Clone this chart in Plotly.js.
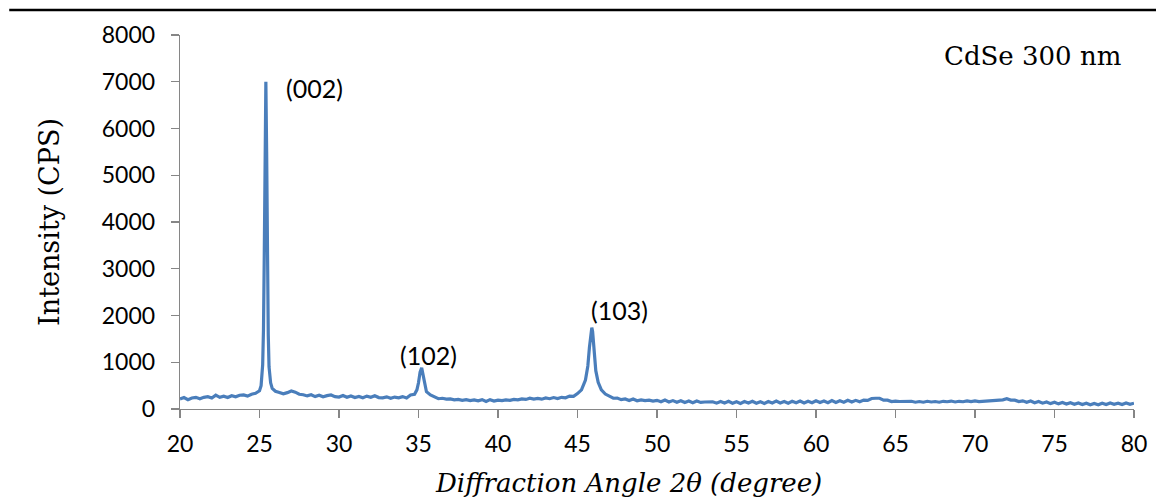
<!DOCTYPE html>
<html>
<head>
<meta charset="utf-8">
<script src="https://cdn.plot.ly/plotly-3.0.1.min.js"></script>
<style>html,body{margin:0;padding:0;background:#fff;}#chart{width:1156px;height:502px;}</style>
</head>
<body>
<div id="chart"></div>
<script>
// 2θ angles (degree)
const angle = [
20.00,20.25,20.50,20.75,21.00,21.25,21.50,21.75,22.00,22.25,22.50,22.75,23.00,23.25,23.50,23.75,24.00,24.25,24.50,24.75,25.00,
25.10,25.20,25.25,25.30,25.35,25.40,25.45,25.50,25.55,25.60,25.70,25.80,26.00,
26.25,26.50,26.75,27.00,27.25,27.50,27.75,28.00,28.25,28.50,28.75,29.00,29.25,29.50,29.75,30.00,30.25,30.50,30.75,31.00,31.25,31.50,31.75,32.00,32.25,32.50,32.75,33.00,33.25,33.50,33.75,34.00,34.25,34.50,34.75,
34.90,35.00,35.10,35.20,35.30,35.40,35.50,35.75,
36.00,36.25,36.50,36.75,37.00,37.25,37.50,37.75,38.00,38.25,38.50,38.75,39.00,39.25,39.50,39.75,40.00,40.25,40.50,40.75,41.00,41.25,41.50,41.75,42.00,42.25,42.50,42.75,43.00,43.25,43.50,43.75,44.00,44.25,44.50,44.75,45.00,45.25,
45.50,45.65,45.75,45.85,45.90,45.95,46.05,46.15,46.30,46.50,46.75,
47.00,47.25,47.50,47.75,48.00,48.25,48.50,48.75,49.00,49.25,49.50,49.75,50.00,
50.25,50.50,50.75,51.00,51.25,51.50,51.75,52.00,52.25,52.50,52.75,53.00,53.25,53.50,53.75,54.00,54.25,54.50,54.75,55.00,
55.25,55.50,55.75,56.00,56.25,56.50,56.75,57.00,57.25,57.50,57.75,58.00,58.25,58.50,58.75,59.00,59.25,59.50,59.75,60.00,
60.25,60.50,60.75,61.00,61.25,61.50,61.75,62.00,62.25,62.50,62.75,63.00,63.25,63.50,63.75,64.00,64.25,64.50,64.75,65.00,
65.25,65.50,65.75,66.00,66.25,66.50,66.75,67.00,67.25,67.50,67.75,68.00,68.25,68.50,68.75,69.00,69.25,69.50,69.75,70.00,
70.25,70.50,70.75,71.00,71.25,71.50,71.75,72.00,72.25,72.50,72.75,73.00,73.25,73.50,73.75,74.00,74.25,74.50,74.75,75.00,
75.25,75.50,75.75,76.00,76.25,76.50,76.75,77.00,77.25,77.50,77.75,78.00,78.25,78.50,78.75,79.00,79.25,79.50,79.75,80.00
];
// intensity (CPS)
const intensity = [
215,245,200,235,250,220,250,262,235,295,250,275,245,285,260,295,300,275,315,335,390,
500,950,1700,3300,5700,7000,5500,3100,1600,900,560,440,380,
355,325,350,385,360,315,305,280,305,265,295,260,285,300,265,255,290,250,280,245,270,240,275,250,285,245,240,260,230,255,240,265,235,300,315,
410,560,790,880,710,490,370,300,
260,220,230,210,215,195,205,185,200,180,195,175,200,160,200,170,190,180,195,185,205,195,215,205,230,210,225,210,235,220,245,225,250,240,275,270,330,410,
620,920,1320,1700,1740,1660,1220,820,570,410,320,
270,230,235,200,215,180,215,175,195,180,190,170,185,
155,190,150,180,145,175,140,170,135,170,140,150,145,155,125,160,130,165,125,155,
120,160,130,165,125,155,120,160,130,170,130,160,125,165,135,170,130,165,135,175,
140,170,135,180,140,175,145,185,150,185,155,190,185,225,230,230,190,190,160,170,
160,160,150,165,145,160,145,165,150,160,145,165,155,170,150,165,155,175,160,175,
160,165,165,180,175,190,195,220,190,190,160,175,145,170,135,160,125,150,115,145,
110,140,105,135,100,130,95,125,90,120,90,125,95,130,100,125,95,130,100,125
];
const xTicks = [20,25,30,35,40,45,50,55,60,65,70,75,80];
const yTicks = [0,1000,2000,3000,4000,5000,6000,7000,8000];
const peakLabels = ['(002)','(102)','(103)'];
const peakLabelX = [28.43,35.63,47.67];
const peakLabelY = [6870,1150,2115];
const sampleLabel = 'CdSe 300 nm';
const xTitle = 'Diffraction Angle 2θ (degree)';
const yTitle = 'Intensity (CPS)';

const sansFont = 'Lato, "Open Sans", sans-serif';
const serifFont = '"DejaVu Serif", serif';

const annotations = peakLabels.map((t,i)=>({
  x: peakLabelX[i], y: peakLabelY[i], xref:'x', yref:'y', text:t, showarrow:false,
  xanchor:'center', yanchor:'middle', font:{family:sansFont, size:25, color:'#000'}
}));
annotations.push({x:0.988, y:0.944, xref:'paper', yref:'paper', text:sampleLabel, showarrow:false,
  xanchor:'right', yanchor:'middle', font:{family:serifFont, size:26, color:'#000'}});
annotations.push({x:0.4706, y:-0.199, xref:'paper', yref:'paper', text:'<i>'+xTitle+'</i>', showarrow:false,
  xanchor:'center', yanchor:'middle', font:{family:serifFont, size:26, color:'#000'}});

const trace = {x: angle, y: intensity, type:'scatter', mode:'lines',
  line:{color:'#4a7ebb', width:3.2}, hoverinfo:'skip'};

const layout = {
  width:1156, height:502,
  margin:{l:180, r:22, t:35, b:93, autoexpand:false},
  paper_bgcolor:'#fff', plot_bgcolor:'#fff',
  showlegend:false,
  xaxis:{range:[20,80], tickvals:xTicks, ticktext:xTicks.map(String), showgrid:false, zeroline:false,
    showline:true, linecolor:'#868686', linewidth:1.3, ticks:'outside', ticklen:8, tickcolor:'#868686', tickwidth:1.3,
    tickfont:{family:sansFont, size:23, color:'#000'}, automargin:false, ticklabelstandoff:6},
  yaxis:{range:[0,8000], tickvals:yTicks, ticktext:yTicks.map(String), showgrid:false, zeroline:false,
    showline:true, linecolor:'#868686', linewidth:1.3, ticks:'outside', ticklen:8, tickcolor:'#868686', tickwidth:1.3,
    tickfont:{family:sansFont, size:23, color:'#000'}, automargin:false, ticklabelstandoff:11,
    title:{text:yTitle, font:{family:serifFont, size:27, color:'#000'}, standoff:34}},
  annotations: annotations,
  shapes:[{type:'line', xref:'paper', yref:'paper', x0:-0.179, x1:1.03, y0:1.067, y1:1.067,
    line:{color:'#000', width:2.5}}]
};
Plotly.newPlot('chart', [trace], layout, {staticPlot:true, displayModeBar:false});
</script>
</body>
</html>
